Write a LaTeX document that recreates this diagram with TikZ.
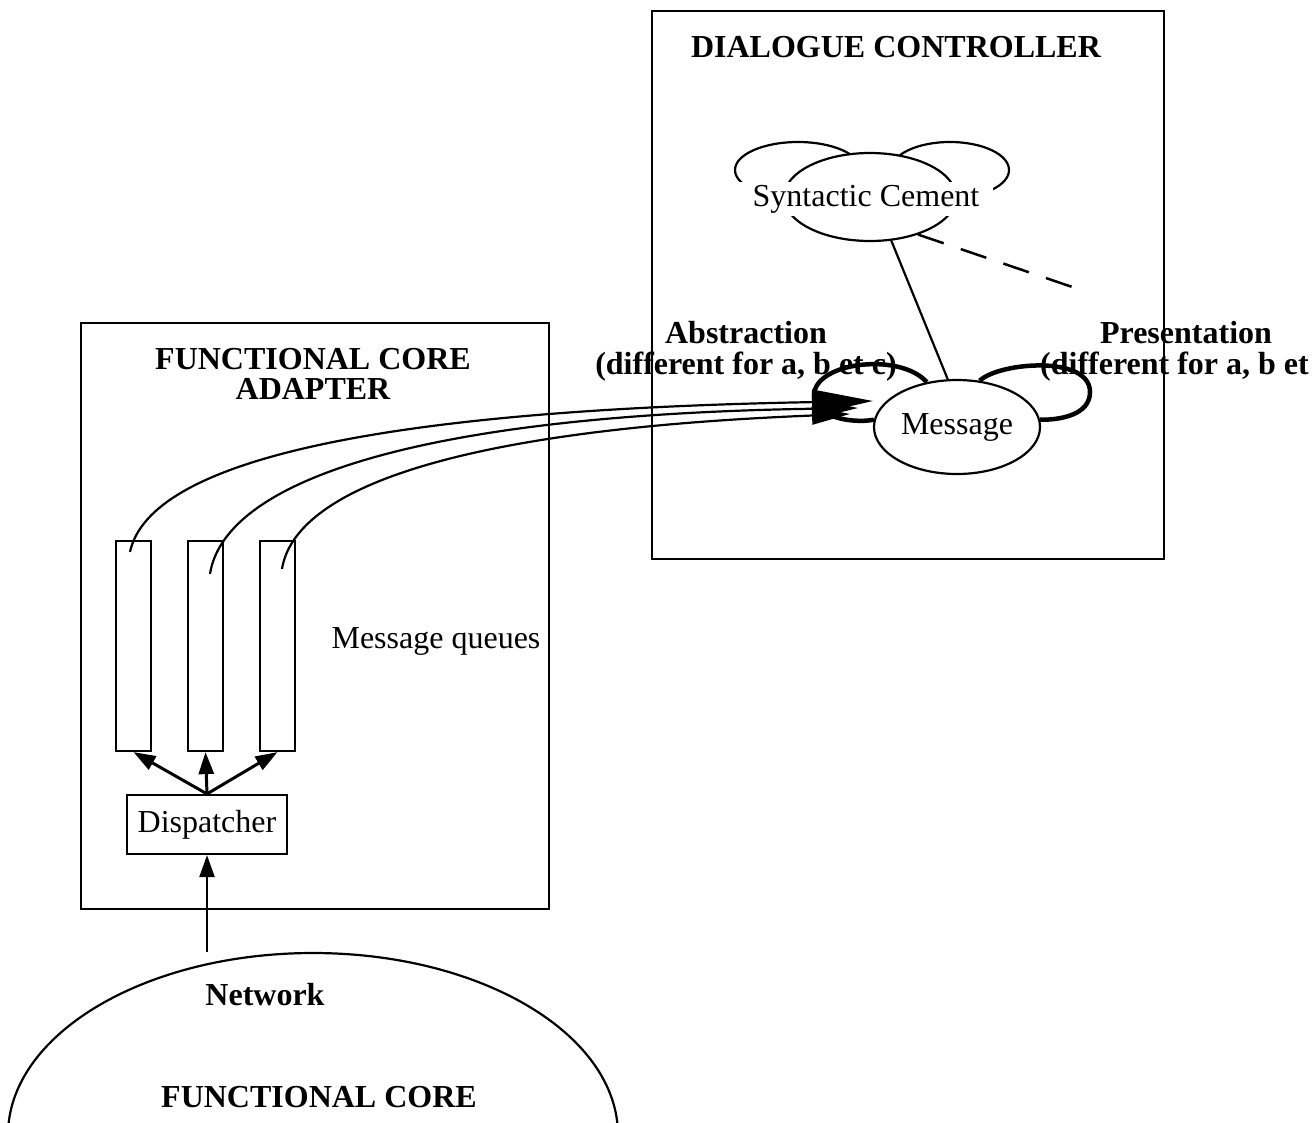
\documentclass[tikz,border=0pt]{standalone}
\usepackage{fontspec}
\setmainfont{Liberation Serif}
\usetikzlibrary{arrows.meta,shapes.geometric,calc}
\begin{document}
\begin{tikzpicture}[x=1pt,y=-1pt,
  every node/.style={font=\fontsize{32}{36}\selectfont, inner sep=0pt},
  lbl/.style={anchor=base},
  blbl/.style={anchor=base, font=\fontsize{32}{36}\selectfont\bfseries},
  panel/.style={draw, line width=2.2pt, rectangle},
  queue/.style={draw, line width=2.2pt, rectangle, minimum width=35pt, minimum height=210pt},
  oval/.style={draw, ellipse, line width=2.2pt, fill=white},
  link/.style={line width=2.2pt},
  loopline/.style={line width=4.5pt},
  feed/.style={line width=3pt, -{Triangle[length=22pt,width=15pt]}},
  up/.style={line width=2.2pt, -{Triangle[length=22pt,width=15pt]}}]
\useasboundingbox (0,0) rectangle (1316,1122);
\clip (0,0) rectangle (1316,1122);

% labels of the two loops (lines are drawn over them)
\node[blbl] (abs1) at (746,343) {Abstraction};
\node[blbl] (abs2) at (746,374) {(different for a, b et c)};
\node[blbl] (pre1) at (1186,343) {Presentation};
\node[blbl, anchor=base west] (pre2) at (1040,374) {(different for a, b et};

% dialogue controller
\node[panel, minimum width=512pt, minimum height=548pt] (dc) at (908,285) {};
\node[blbl] (dct) at (896,57) {DIALOGUE CONTROLLER};

% functional core adapter
\node[panel, minimum width=468pt, minimum height=586pt] (fca) at (315,616) {};
\node[blbl] (fcat1) at (313,369) {FUNCTIONAL CORE};
\node[blbl] (fcat2) at (313,399) {ADAPTER};

% functional core
\node[draw, ellipse, line width=2.2pt, minimum width=610pt, minimum height=364pt] (core) at (313,1135) {};
\node[blbl] (net) at (265,1005) {Network};
\node[blbl] (coret) at (319,1107) {FUNCTIONAL CORE};

% message queues and dispatcher
\node[queue] (q1) at (133.5,646) {};
\node[queue] (q2) at (205.5,646) {};
\node[queue] (q3) at (277.5,646) {};
\node[lbl] (mq) at (436,648) {Message queues};
\node[draw, line width=2.2pt, minimum width=160pt, minimum height=59pt] (disp) at (207,824.5) {Dispatcher};

\draw[feed] (disp.north) -- (q1.south);
\draw[feed] (disp.north) -- (q2.south);
\draw[feed] (disp.north) -- (q3.south);
\draw[up] (disp.south |- core.north) -- (disp.south);

% syntactic cement cloud
\node[oval, minimum width=126pt, minimum height=56pt] (scl) at (798,170) {};
\node[oval, minimum width=118pt, minimum height=56pt] (scr) at (950,170) {};
\node[oval, minimum width=172pt, minimum height=88pt] (sc) at (870,197) {};
\node[lbl, fill=white, inner xsep=14pt, inner ysep=3pt] (sct) at (866,206) {Syntactic Cement};

% message
\node[oval, minimum width=166pt, minimum height=94pt] (msg) at (957,427) {Message};

\coordinate (pend) at (1087,292);
\draw[link] (sc.-64) -- (msg.101);
\draw[line width=2.5pt, dash pattern=on 27pt off 18pt] (sc.-38) -- (pend);

% abstraction and presentation loops
\draw[loopline] (msg.124) .. controls (900,352) and (815,362) .. (814,395)
  .. controls (813,416) and (850,424) .. (msg.175);
\draw[loopline] (msg.64) .. controls (1000,362) and (1090,355) .. (1090,392)
  .. controls (1090,415) and (1060,420) .. (msg.5);

% queue links into the dialogue controller
\coordinate (t1) at (873,401);
\coordinate (t2) at (858,408);
\coordinate (t3) at (850,414);
\draw[link, -{Triangle[length=61pt,width=25pt]}] ($(q1.north)+(-3.5,12)$) .. controls (150,460) and (380,410) .. (t1);
\draw[link, -{Triangle[length=45pt,width=20pt]}] ($(q2.north)+(4.5,34)$) .. controls (225,480) and (420,415) .. (t2);
\draw[link, -{Triangle[length=38pt,width=18pt]}] ($(q3.north)+(4.5,29)$) .. controls (295,490) and (450,430) .. (t3);
\end{tikzpicture}
\end{document}
